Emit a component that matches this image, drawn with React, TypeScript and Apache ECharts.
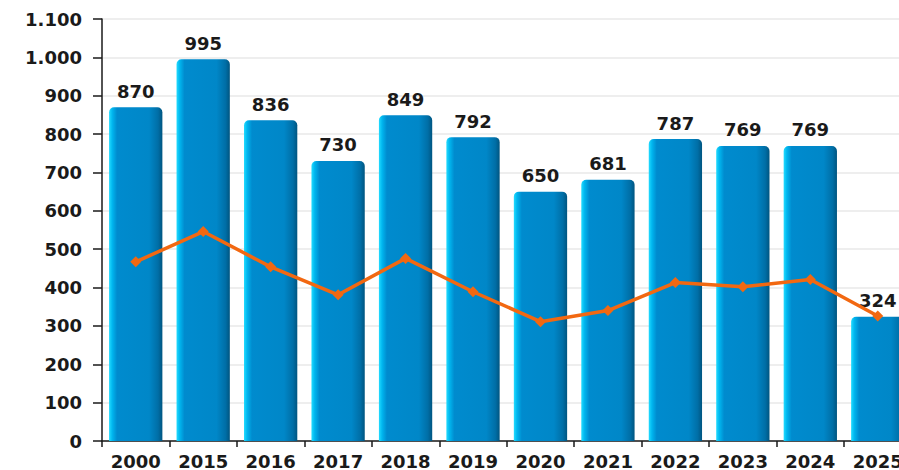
import React, { useEffect, useRef } from "react";
import * as echarts from "echarts";

const categories = ["2000", "2015", "2016", "2017", "2018", "2019", "2020", "2021", "2022", "2023", "2024", "2025"];
const barValues = [870, 995, 836, 730, 849, 792, 650, 681, 787, 769, 769, 324];
const lineValues = [467, 546, 454, 381, 476, 389, 311, 340, 413, 402, 421, 326];
const yMax = 1100;
const yInterval = 100;

const fmt = (v: number) => String(v).replace(/\B(?=(\d{3})+(?!\d))/g, ".");

export default function App() {
  const ref = useRef<HTMLDivElement>(null);
  useEffect(() => {
    document.body.style.margin = "0";
    const chart = echarts.init(ref.current!, null, { renderer: "svg" });
    const font = "'DejaVu Sans', Verdana, sans-serif";
    chart.setOption({
      animation: false,
      backgroundColor: "#ffffff",
      grid: { left: 102, top: 19, bottom: 29, width: 809.5, containLabel: false, outerBoundsMode: "none" },
      xAxis: {
        type: "category",
        data: categories,
        axisLine: { lineStyle: { color: "#1a1a1a", width: 1.5 } },
        axisTick: { show: true, length: 6, alignWithLabel: false, lineStyle: { color: "#1a1a1a", width: 1.5 } },
        axisLabel: { color: "#1a1a1a", fontFamily: font, fontWeight: "bold", fontSize: 18, margin: 11, hideOverlap: false },
      },
      yAxis: {
        type: "value",
        min: 0,
        max: yMax,
        interval: yInterval,
        axisLine: { show: true, lineStyle: { color: "#1a1a1a", width: 1.5 } },
        axisTick: { show: true, length: 9, lineStyle: { color: "#1a1a1a", width: 1.5 } },
        splitLine: { lineStyle: { color: "#e8e8e8", width: 1.5 } },
        axisLabel: {
          color: "#1a1a1a",
          fontFamily: font,
          fontWeight: "bold",
          fontSize: 18,
          margin: 20,
          formatter: (v: number) => fmt(v),
        },
      },
      series: [
        {
          type: "bar",
          data: barValues,
          barCategoryGap: "21%",
          itemStyle: {
            borderRadius: [5, 5, 0, 0],
            color: new echarts.graphic.LinearGradient(0, 0, 1, 0, [
              { offset: 0, color: "#22dcff" },
              { offset: 0.06, color: "#00b6ef" },
              { offset: 0.15, color: "#008bce" },
              { offset: 0.75, color: "#0087c8" },
              { offset: 0.92, color: "#006ea6" },
              { offset: 1, color: "#005580" },
            ]),
          },
          label: {
            show: true,
            position: "top",
            distance: 7,
            color: "#1a1a1a",
            fontFamily: font,
            fontWeight: "bold",
            fontSize: 18,
            formatter: (p: any) => fmt(p.value),
          },
          z: 2,
        },
        {
          type: "line",
          data: lineValues,
          symbol: "diamond",
          symbolSize: 11,
          lineStyle: { color: "#f26811", width: 3.5 },
          itemStyle: { color: "#f26811" },
          z: 3,
        },
      ],
    });
    return () => chart.dispose();
  }, []);
  return <div ref={ref} style={{ width: 899, height: 470 }} />;
}
